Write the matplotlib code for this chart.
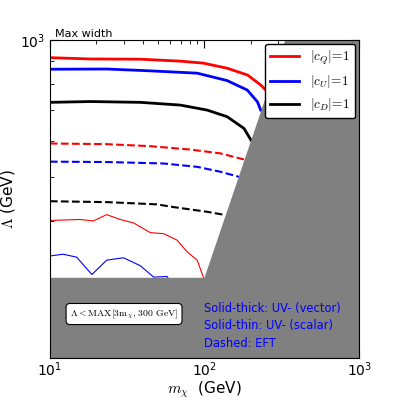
import numpy as np
import matplotlib
matplotlib.use("Agg")
import matplotlib.pyplot as plt
from matplotlib.ticker import NullFormatter

plt.rcParams['mathtext.fontset'] = 'cm'

# thick solid: UV vector
m_q_vec = [10, 18.2, 38.4, 69.8, 98.5, 141, 190, 231, 249]
L_q_vec = [914, 908, 907, 898, 889, 866, 837, 796, 776]
m_u_vec = [10, 23.3, 44.6, 89.7, 140, 189, 220, 231]
L_u_vec = [862, 863, 855, 845, 814, 776, 731, 701]
m_d_vec = [10, 18.2, 38.4, 69.8, 104, 140, 180, 200]
L_d_vec = [729, 732, 729, 719, 701, 678, 639, 602]

# dashed: EFT
m_q_eft = [10, 23.3, 44.6, 81.1, 127, 180]
L_q_eft = [592, 590, 584, 574, 563, 546]
m_u_eft = [10, 23.3, 54.4, 89.7, 127, 167]
L_u_eft = [540, 539, 535, 526, 513, 500]
m_d_eft = [10, 23.3, 49.3, 63.2, 104, 137]
L_d_eft = [442, 440, 435, 429, 419, 412]

# thin solid: UV scalar
m_q_sca = [10, 15.7, 19.1, 23.3, 28.5, 34.8, 44.6, 54.4, 66.5, 77.2, 89.7, 99]
L_q_sca = [401, 403, 400, 413, 403, 396, 377, 375, 363, 342, 328, 299]
m_u_sca = [10, 12.2, 14.9, 18.7, 23.3, 29.9, 38.4, 46.9, 57.3, 58.6]
L_u_sca = [335, 338, 333, 305, 328, 332, 319, 301, 302, 298]

fig = plt.figure(figsize=(3.99, 3.99), dpi=100)
ax = fig.add_axes([0.125, 0.103, 0.775, 0.797])

ax.plot(m_q_vec, L_q_vec, color='red', lw=2, label=r'$|c_Q|\!=\!1$')
ax.plot(m_u_vec, L_u_vec, color='blue', lw=2, label=r'$|c_U|\!=\!1$')
ax.plot(m_d_vec, L_d_vec, color='black', lw=2, label=r'$|c_D|\!=\!1$')

ax.plot(m_q_eft, L_q_eft, color='red', lw=1.5, ls='--')
ax.plot(m_u_eft, L_u_eft, color='blue', lw=1.5, ls='--')
ax.plot(m_d_eft, L_d_eft, color='black', lw=1.5, ls='--')

ax.plot(m_q_sca, L_q_sca, color='red', lw=0.8)
ax.plot(m_u_sca, L_u_sca, color='blue', lw=0.8)

# excluded region Lambda < max(3 m, 300 GeV)
mm = np.logspace(1, 3, 400)
mm = np.sort(np.append(mm, 100.0))
ax.fill_between(mm, np.maximum(3 * mm, 300), 100, color='#808080', zorder=3, lw=0)

ax.set_xscale('log')
ax.set_yscale('log')
ax.set_xlim(10, 1000)
ax.set_ylim(200, 1000)

ax.yaxis.set_minor_formatter(NullFormatter())
ax.tick_params(which='both', direction='in', top=True, right=True, labelsize=10)
ax.tick_params(axis='x', pad=2)
ax.tick_params(which='major', length=6)
ax.tick_params(which='minor', length=3)
for sp in ax.spines.values():
    sp.set_zorder(5)

ax.set_xlabel(r'$m_\chi$  (GeV)', fontsize=11, labelpad=0)
ax.set_ylabel(r'$\Lambda$ (GeV)', fontsize=11, labelpad=2)
ax.set_title('Max width', loc='left', fontsize=8, pad=2, x=0.015)

leg = ax.legend(loc='upper right', fontsize=9.5, handlelength=2.2, borderaxespad=0.3,
                framealpha=1, edgecolor='black', fancybox=True, labelspacing=0.45)
leg.set_zorder(6)

ax.text(0.065, 0.138, r'$\Lambda<\mathrm{MAX}[3\mathrm{m}_\chi,\,300\ \mathrm{GeV}]$',
        transform=ax.transAxes, fontsize=7, zorder=6, va='center',
        bbox=dict(boxstyle='round,pad=0.4', facecolor='white', edgecolor='black', lw=0.8))

ax.text(0.50, 0.025, 'Solid-thick: UV- (vector)\nSolid-thin: UV- (scalar)\nDashed: EFT',
        transform=ax.transAxes, fontsize=8.3, color='blue', zorder=6,
        linespacing=1.45, va='bottom')

fig.savefig('out.png', dpi=100)
